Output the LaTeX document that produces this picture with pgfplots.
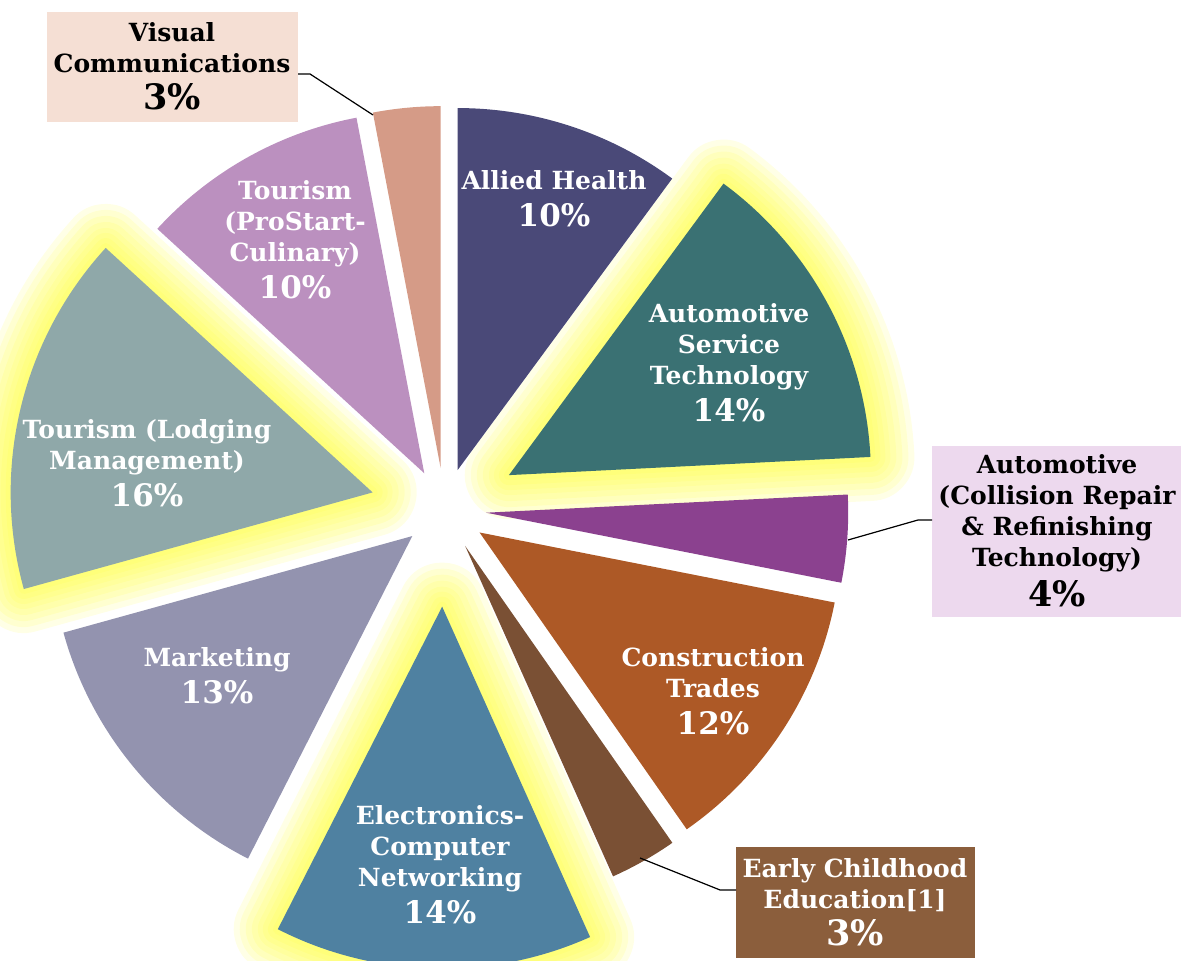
\documentclass[border=0pt]{standalone}
\usepackage{pgfplots}
\pgfplotsset{compat=1.18}
\usepackage{pgfplotstable}
\usepackage{fontspec}
\setmainfont{DejaVu Serif}

\definecolor{cAH}{HTML}{4A4978}
\definecolor{cAST}{HTML}{3A7173}
\definecolor{cAC}{HTML}{8B418F}
\definecolor{cCT}{HTML}{AD5926}
\definecolor{cEC}{HTML}{7A5034}
\definecolor{cEN}{HTML}{4F81A1}
\definecolor{cMK}{HTML}{9393AF}
\definecolor{cTL}{HTML}{8FA8A9}
\definecolor{cTP}{HTML}{BB90BF}
\definecolor{cVC}{HTML}{D59B87}
\definecolor{boxVC}{HTML}{F5DFD4}
\definecolor{boxAC}{HTML}{EDD9EE}
\definecolor{boxEC}{HTML}{8B5E3C}
\definecolor{glowc}{HTML}{FFFF30}

% share (%), explosion offset (px), glow flag, colour; clockwise from 12 o'clock
\pgfplotstableread{
key value explode glow color
AH  10.1  41.7 0 cAH
AST 14.1  73   1 cAST
AC   3.9  41.7 0 cAC
CT  12.2  41.7 0 cCT
EC   3.0  41.7 0 cEC
EN  14.2  97   1 cEN
MK  13.2  41.7 0 cMK
TL  16.1  74   1 cTL
TP  10.2  41.7 0 cTP
VC   3.0  41.7 0 cVC
}\piedata

\def\cx{444.6}
\def\cy{451.3}
\def\rad{181pt}

\newcommand\pieloop[1]{%
  \pgfplotstablegetrowsof{\piedata}%
  \pgfmathtruncatemacro\nrows{\pgfplotsretval-1}%
  \gdef\cum{0}%
  \foreach \i in {0,...,\nrows}{%
    \pgfplotstablegetelem{\i}{value}\of\piedata \let\val\pgfplotsretval
    \pgfplotstablegetelem{\i}{explode}\of\piedata \let\ex\pgfplotsretval
    \pgfplotstablegetelem{\i}{glow}\of\piedata \let\gl\pgfplotsretval
    \pgfplotstablegetelem{\i}{color}\of\piedata \let\col\pgfplotsretval
    \pgfmathsetmacro\aone{90-3.6*\cum}%
    \pgfmathsetmacro\atwo{90-3.6*(\cum+\val)}%
    \pgfmathsetmacro\amid{(\aone+\atwo)/2}%
    \pgfmathsetmacro\px{\cx+\ex*cos(\amid)}%
    \pgfmathsetmacro\py{\cy+\ex*sin(\amid)}%
    #1%
    \pgfmathsetmacro\newcum{\cum+\val}\xdef\cum{\newcum}%
  }%
}
\def\slicepath{(axis cs:\px,\py) -- ++(\aone:\rad) arc[start angle=\aone,end angle=\atwo,radius=\rad] -- cycle}

\begin{document}
\begin{tikzpicture}[
    lbl/.style={align=center, text=white, font=\bfseries\fontsize{12.5}{15.5}\selectfont},
    blk/.style={align=center, text=black, font=\bfseries\fontsize{12.5}{15.5}\selectfont},
]
\begin{axis}[
    x=0.5pt, y=0.5pt,
    xmin=0, xmax=1181, ymin=0, ymax=961,
    hide axis,
    clip=true,
]
% soft glow behind highlighted slices
\pgfplotsextra{\pieloop{%
  \ifnum\gl=1
    \foreach \w in {44,38,32,26,20,15,10,5}{%
      \draw[glowc, opacity=0.12, line width=\w pt, line join=round] \slicepath;
    }%
  \fi}}
% slices
\pgfplotsextra{\pieloop{\fill[fill=\col] \slicepath;}}

% callout boxes and leader lines
\fill[boxVC] (axis cs:47,839) rectangle (axis cs:298,949);
\fill[boxAC] (axis cs:932,344) rectangle (axis cs:1181,515);
\fill[boxEC] (axis cs:736,3) rectangle (axis cs:975,114);
\draw[black, line width=0.6pt] (axis cs:298,887) -- (axis cs:310,887) -- (axis cs:373,846);
\draw[black, line width=0.6pt] (axis cs:848,421) -- (axis cs:918,441) -- (axis cs:932,441);
\draw[black, line width=0.6pt] (axis cs:640,103) -- (axis cs:720,71) -- (axis cs:736,71);

% labels
\node[lbl] at (axis cs:554,762) {Allied Health\\[3pt]{\fontsize{15.5}{18}\selectfont 10\%}};
\node[lbl] at (axis cs:729,598) {Automotive\\Service\\Technology\\[3pt]{\fontsize{15.5}{18}\selectfont 14\%}};
\node[lbl] at (axis cs:713,270) {Construction\\Trades\\[3pt]{\fontsize{15.5}{18}\selectfont 12\%}};
\node[lbl] at (axis cs:440,96) {Electronics-\\Computer\\Networking\\[3pt]{\fontsize{15.5}{18}\selectfont 14\%}};
\node[lbl] at (axis cs:217,285) {Marketing\\[3pt]{\fontsize{15.5}{18}\selectfont 13\%}};
\node[lbl] at (axis cs:147,497.5) {Tourism (Lodging\\Management)\\[3pt]{\fontsize{15.5}{18}\selectfont 16\%}};
\node[lbl] at (axis cs:295,721) {Tourism\\(ProStart-\\Culinary)\\[3pt]{\fontsize{15.5}{18}\selectfont 10\%}};
\node[blk] at (axis cs:172,895) {Visual\\Communications\\[3pt]{\fontsize{17.5}{20}\selectfont 3\%}};
\node[blk] at (axis cs:1057,430) {Automotive\\(Collision Repair\\\& Refinishing\\Technology)\\[3pt]{\fontsize{17.5}{20}\selectfont 4\%}};
\node[lbl] at (axis cs:855,59) {Early Childhood\\Education[1]\\[3pt]{\fontsize{17.5}{20}\selectfont 3\%}};
\end{axis}
\pgfresetboundingbox
\path[use as bounding box] (current axis.south west) rectangle (current axis.north east);
\end{tikzpicture}
\end{document}
